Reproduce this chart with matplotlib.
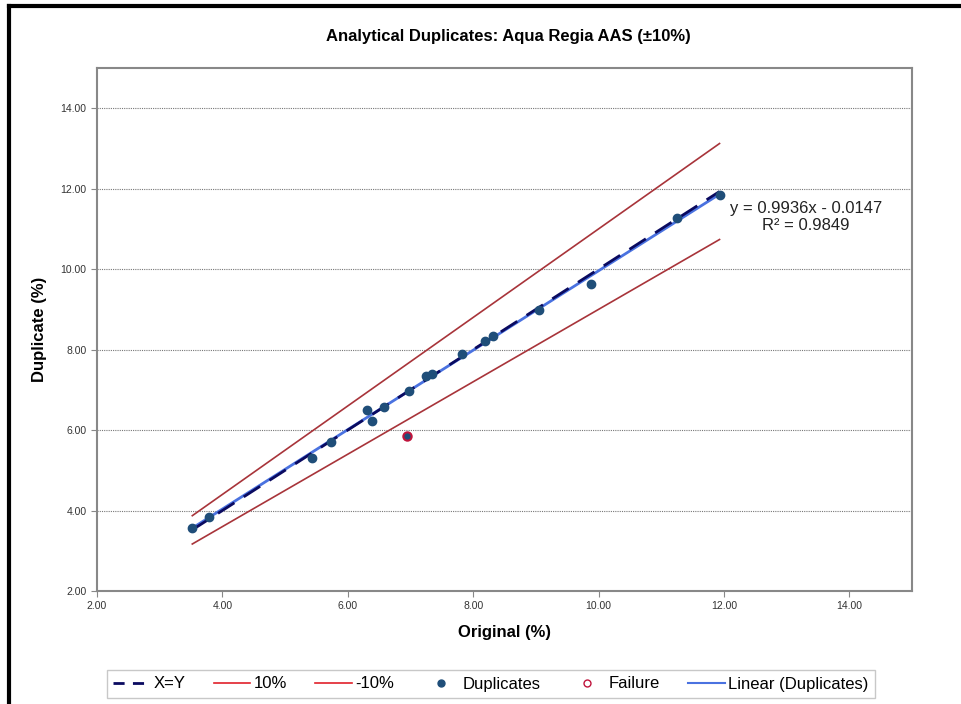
import numpy as np
import matplotlib
matplotlib.use("Agg")
import matplotlib.pyplot as plt
from matplotlib.lines import Line2D

plt.rcParams['font.family'] = ['Liberation Sans Narrow', 'Liberation Sans', 'DejaVu Sans']

# Data
orig = [3.52, 3.79, 5.43, 5.74, 6.30, 6.38, 6.57, 6.98, 7.24, 7.35, 7.83,
        8.19, 8.31, 9.05, 9.88, 11.25, 11.93]
dup = [3.56, 3.85, 5.30, 5.71, 6.50, 6.23, 6.58, 6.98, 7.34, 7.39, 7.89,
       8.21, 8.34, 8.98, 9.64, 11.28, 11.84]
fail_x = [6.95]
fail_y = [5.86]
tol = 0.10
eq_text = "y = 0.9936x - 0.0147"
r2_text = "R² = 0.9849"
ticks = [2, 4, 6, 8, 10, 12, 14]

W, H = 961, 704
fig = plt.figure(figsize=(W / 100, H / 100), dpi=100)
ax = fig.add_axes([97 / W, 1 - 591 / H, (912 - 97) / W, (591 - 68) / H])

xo = np.array(orig)
yd = np.array(dup)
xl = np.array([xo.min(), xo.max()])

ax.plot(xl, xl * (1 + tol), color='#a8343a', lw=1.2, zorder=2)
ax.plot(xl, xl * (1 - tol), color='#a8343a', lw=1.2, zorder=2)
ax.plot(xo, yd, 'o', color='#1f4e79', ms=6, zorder=4, markeredgecolor='#1f4e79')
ax.plot(fail_x, fail_y, 'o', color='#1f4e79', ms=6, markeredgecolor='#c0143c', mew=1.5, zorder=4)
slope, icpt = np.polyfit(xo, yd, 1)
ax.plot(xl, slope * xl + icpt, color='#4a72e0', lw=2, zorder=3)
ax.plot(xl, xl, color='#0a0a60', lw=2, dashes=(7, 4), zorder=3)

ax.set_xlim(2, 15)
ax.set_ylim(2, 15)
ax.set_xticks(ticks)
ax.set_yticks(ticks)
ax.set_xticklabels([f"{t:.2f}" for t in ticks], fontsize=7.5, color='#333333')
ax.set_yticklabels([f"{t:.2f}" for t in ticks], fontsize=7.5, color='#333333')
ax.tick_params(direction='out', length=4, width=0.8, color='#888888')
ax.grid(axis='y', color='#777777', ls=(0, (1, 1)), lw=0.8)
for s in ax.spines.values():
    s.set_color('#888888')
    s.set_linewidth(1.5)

ax.set_xlabel("Original (%)", fontsize=12, fontweight='bold', labelpad=10)
ax.set_ylabel("Duplicate (%)", fontsize=12, fontweight='bold', labelpad=10)
fig.text(508 / W, 1 - 37 / H, "Analytical Duplicates: Aqua Regia AAS (±10%)",
         ha='center', va='center', fontsize=12, fontweight='bold')

fig.text(806 / W, 1 - 208 / H, eq_text, ha='center', va='center', fontsize=12,
         family=['Liberation Sans', 'DejaVu Sans'], color='#222222')
fig.text(806 / W, 1 - 226 / H, r2_text, ha='center', va='center', fontsize=12,
         family=['Liberation Sans', 'DejaVu Sans'], color='#222222')

handles = [
    Line2D([], [], color='#0a0a60', lw=2, dashes=(4, 3)),
    Line2D([], [], color='#e0202a', lw=1.2),
    Line2D([], [], color='#e0202a', lw=1.2),
    Line2D([], [], ls='none', marker='o', color='#1f4e79', ms=5),
    Line2D([], [], ls='none', marker='o', mfc='white', mec='#c0143c', ms=5),
    Line2D([], [], color='#4a72e0', lw=1.5),
]
labels = ["X=Y", "10%", "-10%", "Duplicates", "Failure", "Linear (Duplicates)"]
leg = fig.legend(handles, labels, loc='center', bbox_to_anchor=(491 / W, 1 - 684 / H),
                 ncol=6, fontsize=12, frameon=True, fancybox=False, handlelength=2.2,
                 columnspacing=1.7, handletextpad=0.2, borderpad=0.4)
leg.get_frame().set_edgecolor('#bbbbbb')
leg.get_frame().set_linewidth(1.0)

# outer chart border (left and top)
fig.add_artist(Line2D([9 / W, 9 / W], [0, 1 - 6 / H], color='black', lw=3, transform=fig.transFigure))
fig.add_artist(Line2D([9 / W, 1], [1 - 6 / H, 1 - 6 / H], color='black', lw=3, transform=fig.transFigure))

fig.savefig("out.png", dpi=100)
